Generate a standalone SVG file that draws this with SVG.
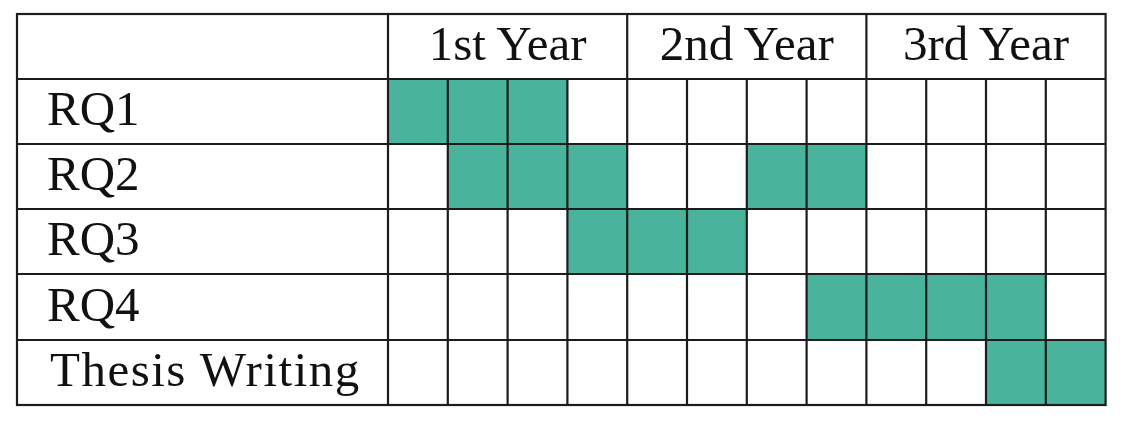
<svg xmlns="http://www.w3.org/2000/svg" width="1126" height="421" viewBox="0 0 1126 421">
<style>
.f{fill:#4AB39C}
.g{stroke:#1c1c1c;stroke-width:2.2;fill:none}
</style>
<rect width="1126" height="421" fill="#fff"/>
<g id="fills">
<rect class="f" x="388" y="79" width="179.4" height="65"/>
<rect class="f" x="447.8" y="144" width="179.4" height="65"/>
<rect class="f" x="746.8" y="144" width="119.6" height="65"/>
<rect class="f" x="567.4" y="209" width="179.4" height="65"/>
<rect class="f" x="806.6" y="274" width="239.2" height="66"/>
<rect class="f" x="985.8" y="340" width="119.6" height="65"/>
</g>
<g font-family="Liberation Serif, Times New Roman, serif" font-size="49" fill="#111">
<g id="header">
<text x="507.6" y="60" text-anchor="middle">1st Year</text>
<text x="746.8" y="60" text-anchor="middle">2nd Year</text>
<text x="986" y="60" text-anchor="middle">3rd Year</text>
</g>
<g id="rq1"><text x="47" y="125">RQ1</text></g>
<g id="rq2"><text x="47" y="190">RQ2</text></g>
<g id="rq3"><text x="47" y="255">RQ3</text></g>
<g id="rq4"><text x="47" y="321">RQ4</text></g>
<g id="thesis"><text x="50" y="386" letter-spacing="1.5">Thesis Writing</text></g>
</g>
<g id="grid" class="g">
<rect x="17" y="14" width="1088.6" height="391"/>
<path d="M17 79H1105.6M17 144H1105.6M17 209H1105.6M17 274H1105.6M17 340H1105.6"/>
<path d="M388 14V405M627.2 14V405M866.4 14V405"/>
<path d="M447.8 79V405M507.6 79V405M567.4 79V405M687 79V405M746.8 79V405M806.6 79V405M926.2 79V405M986 79V405M1045.8 79V405"/>
</g>
</svg>
